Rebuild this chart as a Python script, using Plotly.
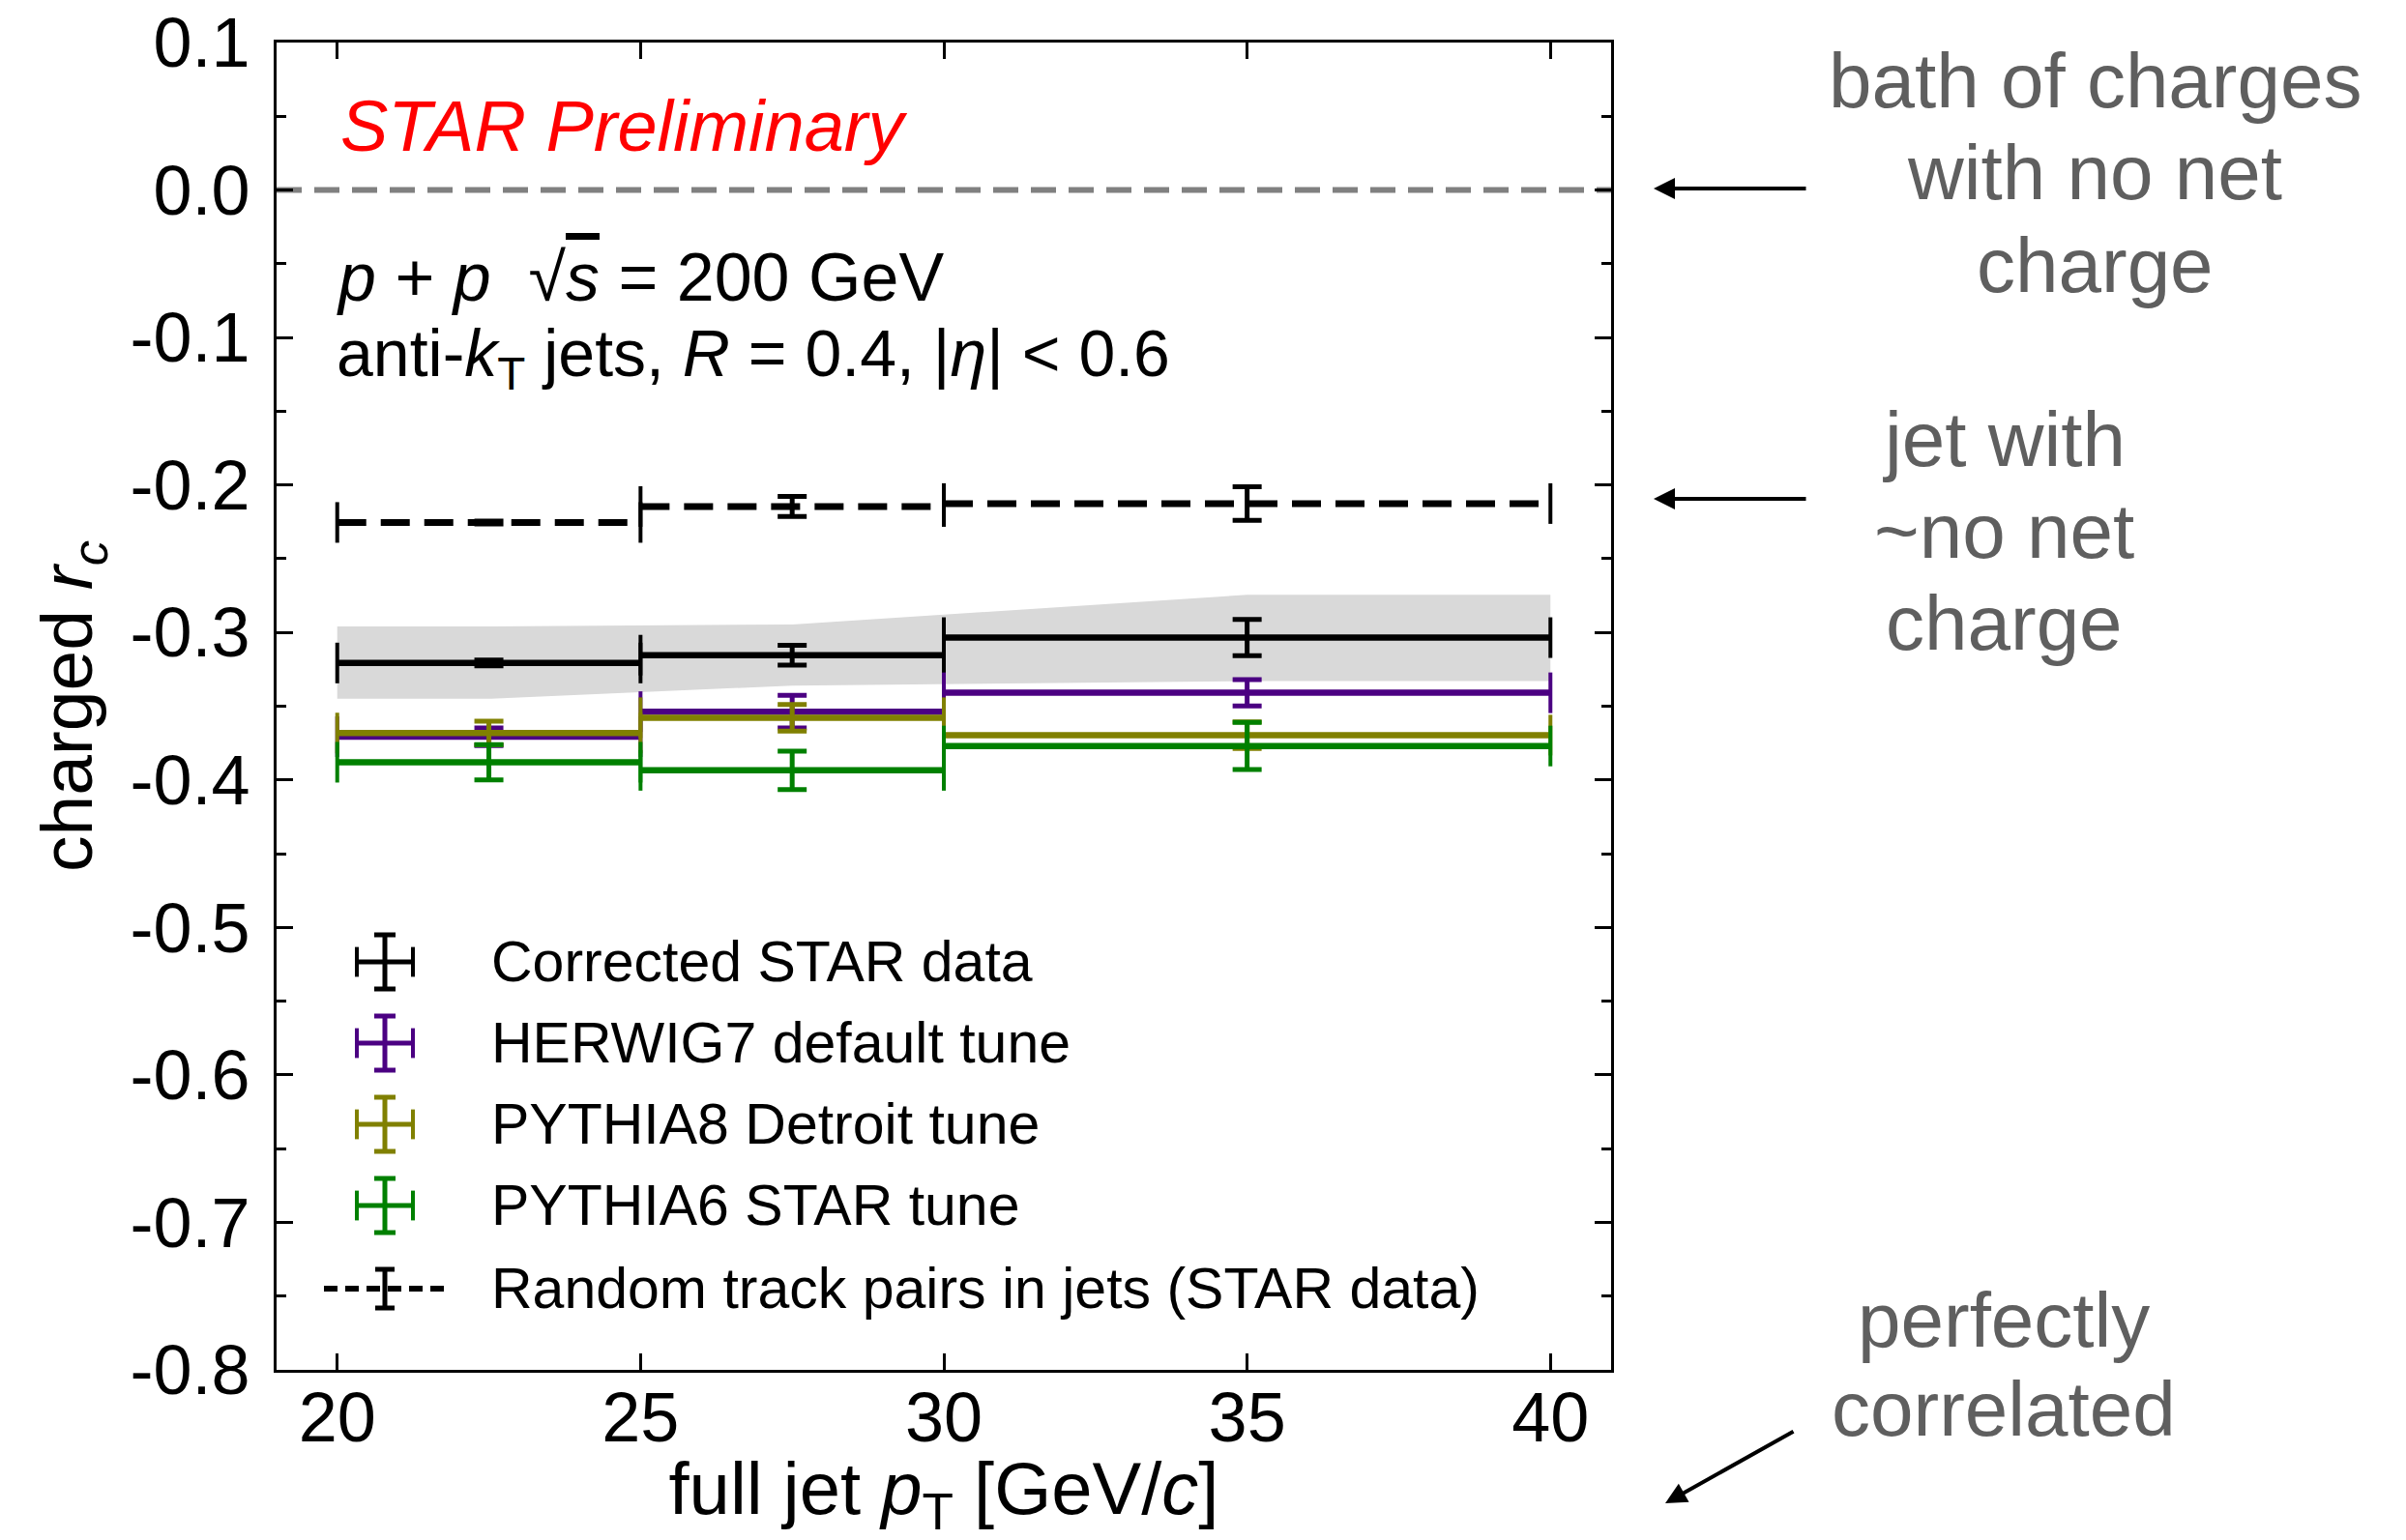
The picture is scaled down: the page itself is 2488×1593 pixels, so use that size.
import plotly.graph_objects as go

# ---- binning in full-jet pT [GeV/c] ----
bin_lo = [20, 25, 30]
bin_hi = [25, 30, 40]
bin_center = [22.5, 27.5, 35]
bin_half = [2.5, 2.5, 5.0]

# ---- charged r_c values ----
star_rc = [-0.3207, -0.3154, -0.3035]
star_stat = [0.002, 0.0067, 0.0123]
sys_x = [20, 22.5, 27.5, 35, 40]
sys_hi = [-0.2960, -0.2960, -0.2946, -0.2745, -0.2745]
sys_lo = [-0.3450, -0.3450, -0.3360, -0.3330, -0.3330]

herwig_rc = [-0.3707, -0.3537, -0.3409]
herwig_err = [0.006, 0.011, 0.009]
pythia8_rc = [-0.3682, -0.3578, -0.3696]
pythia8_err = [0.008, 0.009, 0.009]
pythia6_rc = [-0.3880, -0.3935, -0.3770]
pythia6_err = [0.012, 0.013, 0.016]
random_rc = [-0.2254, -0.2146, -0.2126]
random_err = [0.001, 0.0068, 0.0114]

# ---- axis ticks ----
y_tickvals = [0.1, 0.0, -0.1, -0.2, -0.3, -0.4, -0.5, -0.6, -0.7, -0.8]
y_ticktext = ["0.1", "0.0", "-0.1", "-0.2", "-0.3", "-0.4", "-0.5", "-0.6", "-0.7", "-0.8"]
x_tickvals = [20, 25, 30, 35, 40]
x_ticktext = ["20", "25", "30", "35", "40"]

legend_labels = [
    "Corrected STAR data",
    "HERWIG7 default tune",
    "PYTHIA8 Detroit tune",
    "PYTHIA6 STAR tune",
    "Random track pairs in jets (STAR data)",
]

BLACK = "#000000"
PURPLE = "#4b0082"
OLIVE = "#808000"
GREEN = "#008000"
BAND = "#d9d9d9"
GREY = "#5f5f5f"
FONT = "Liberation Sans, Arial, sans-serif"

# page geometry of the plotting area (px)
W, H = 2488, 1593
L, R, T, B = 286, 1666, 44, 1417


def px(x):
    return (x - L) / (R - L)


def py(y):
    return (B - y) / (B - T)


fig = go.Figure()

# systematic uncertainty band of the corrected data
fig.add_trace(go.Scatter(
    x=sys_x + sys_x[::-1], y=sys_hi + sys_lo[::-1],
    fill="toself", fillcolor=BAND, line=dict(width=0), mode="lines",
    hoverinfo="skip", showlegend=False))


def step_series(vals, errs, color):
    # horizontal bin-width bar plus vertical statistical error
    fig.add_trace(go.Scatter(
        x=bin_center, y=vals, mode="markers",
        marker=dict(size=1, color="rgba(0,0,0,0)"),
        error_x=dict(type="data", array=bin_half, width=0, thickness=6.5, color=color),
        error_y=dict(type="data", array=errs, width=15, thickness=5, color=color),
        showlegend=False))
    # end caps at bin edges
    ex, ey = [], []
    for lo, hi, v in zip(bin_lo, bin_hi, vals):
        ex += [lo, hi]
        ey += [v, v]
    fig.add_trace(go.Scatter(
        x=ex, y=ey, mode="markers",
        marker=dict(symbol="line-ns", size=30, line=dict(width=4, color=color)),
        showlegend=False))


step_series(star_rc, star_stat, BLACK)
step_series(herwig_rc, herwig_err, PURPLE)
step_series(pythia8_rc, pythia8_err, OLIVE)
step_series(pythia6_rc, pythia6_err, GREEN)

# random track pairs: dashed bin bars
lx, ly, ex, ey = [], [], [], []
for lo, hi, v in zip(bin_lo, bin_hi, random_rc):
    lx += [lo, hi, None]
    ly += [v, v, None]
    ex += [lo, hi]
    ey += [v, v]
fig.add_trace(go.Scatter(
    x=lx, y=ly, mode="lines",
    line=dict(color=BLACK, width=7, dash="30px,15px"), showlegend=False))
fig.add_trace(go.Scatter(
    x=ex, y=ey, mode="markers",
    marker=dict(symbol="line-ns", size=30, line=dict(width=4, color=BLACK)),
    showlegend=False))
fig.add_trace(go.Scatter(
    x=bin_center, y=random_rc, mode="markers",
    marker=dict(size=1, color="rgba(0,0,0,0)"),
    error_y=dict(type="data", array=random_err, width=15, thickness=5, color=BLACK),
    showlegend=False))

# ---- hand-made legend on a pixel-scaled overlay axis ----
leg_x = 398
leg_rows = [995, 1079, 1163, 1247, 1333]
leg_colors = [BLACK, PURPLE, OLIVE, GREEN]
for yy, col in zip(leg_rows[:4], leg_colors):
    fig.add_trace(go.Scatter(
        x=[leg_x], y=[yy], xaxis="x2", yaxis="y2", mode="markers",
        marker=dict(size=1, color="rgba(0,0,0,0)"),
        error_x=dict(type="data", array=[29], width=0, thickness=5, color=col),
        error_y=dict(type="data", array=[28], width=11, thickness=5, color=col),
        showlegend=False))
    fig.add_trace(go.Scatter(
        x=[leg_x - 29, leg_x + 29], y=[yy, yy], xaxis="x2", yaxis="y2", mode="markers",
        marker=dict(symbol="line-ns", size=22, line=dict(width=4, color=col)),
        showlegend=False))
ry = leg_rows[4]
fig.add_trace(go.Scatter(
    x=[leg_x - 63, leg_x + 63], y=[ry, ry], xaxis="x2", yaxis="y2", mode="lines",
    line=dict(color=BLACK, width=6, dash="14px,8px"), showlegend=False))
fig.add_trace(go.Scatter(
    x=[leg_x], y=[ry], xaxis="x2", yaxis="y2", mode="markers",
    marker=dict(size=1, color="rgba(0,0,0,0)"),
    error_y=dict(type="data", array=[20], width=10, thickness=5, color=BLACK),
    showlegend=False))

annotations = []
for yy, lab in zip(leg_rows, legend_labels):
    annotations.append(dict(
        x=px(506), y=py(yy), xref="paper", yref="paper", text=lab,
        showarrow=False, xanchor="left", yanchor="middle",
        font=dict(family=FONT, size=59, color=BLACK)))

# in-frame labels
annotations += [
    dict(x=px(350), y=py(130), xref="paper", yref="paper",
         text="<i>STAR Preliminary</i>", showarrow=False,
         xanchor="left", yanchor="middle",
         font=dict(family=FONT, size=74, color="#ff0000")),
    dict(x=px(346), y=py(287), xref="paper", yref="paper",
         text="<i>p</i> + <i>p</i>  √<span style=\"text-decoration:overline\"><i>s</i></span> = 200 GeV",
         showarrow=False, xanchor="left", yanchor="middle",
         font=dict(family=FONT, size=70, color=BLACK)),
    dict(x=px(346), y=py(370), xref="paper", yref="paper",
         text="anti-<i>k</i><sub>T</sub> jets, <i>R</i> = 0.4, |<i>η</i>| &lt; 0.6",
         showarrow=False, xanchor="left", yanchor="middle",
         font=dict(family=FONT, size=68, color=BLACK)),
]

# side notes, one annotation per line
side_notes = [
    (2166, 83, "bath of charges"), (2166, 179, "with no net"), (2166, 274, "charge"),
    (2072, 454, "jet with"), (2072, 549, "~no net"), (2072, 644, "charge"),
    (2072, 1365, "perfectly"), (2072, 1457, "correlated"),
]
for cx, cy, txt in side_notes:
    annotations.append(dict(
        x=px(cx), y=py(cy), xref="paper", yref="paper", text=txt,
        showarrow=False, xanchor="center", yanchor="middle",
        font=dict(family=FONT, size=80, color=GREY)))

for hx, hy, tx, ty in [(1710, 195, 1869, 195), (1710, 516, 1869, 516), (1722, 1555, 1856, 1480)]:
    annotations.append(dict(
        x=px(hx), y=py(hy), xref="paper", yref="paper", text="",
        showarrow=True, ax=tx - hx, ay=ty - hy, axref="pixel", ayref="pixel",
        arrowhead=2, arrowsize=1.1, arrowwidth=4, arrowcolor=BLACK, standoff=0))

axis_common = dict(
    showline=True, linecolor=BLACK, linewidth=3, mirror="ticks",
    ticks="inside", tickcolor=BLACK, tickwidth=3, ticklen=17,
    showgrid=False, zeroline=False, automargin=False,
    tickfont=dict(family=FONT, size=72, color=BLACK),
)

fig.update_layout(
    width=W, height=H,
    margin=dict(l=L, r=W - R, t=T, b=H - B, autoexpand=False),
    paper_bgcolor="white", plot_bgcolor="white",
    showlegend=False,
    xaxis=dict(
        range=[19, 41], tickvals=x_tickvals, ticktext=x_ticktext,
        ticklabelstandoff=-15,
        title=dict(text="full jet <i>p</i><sub>T</sub> [GeV/<i>c</i>]",
                   font=dict(family=FONT, size=76, color=BLACK), standoff=24),
        **axis_common),
    yaxis=dict(
        range=[-0.8, 0.1], tickvals=y_tickvals, ticktext=y_ticktext,
        ticklabelstandoff=10,
        minor=dict(dtick=0.05, tick0=0, ticks="inside", ticklen=10, tickwidth=3, tickcolor=BLACK),
        title=dict(text="charged <i>r</i><sub><i>c</i></sub>",
                   font=dict(family=FONT, size=75, color=BLACK), standoff=15),
        **axis_common),
    xaxis2=dict(overlaying="x", range=[L, R], visible=False),
    yaxis2=dict(overlaying="y", range=[B, T], visible=False),
    shapes=[dict(type="line", xref="paper", x0=0, x1=1, yref="y", y0=0, y1=0,
                 line=dict(color="#808080", width=6, dash="26px,13px"), layer="below")],
    annotations=annotations,
)

fig.write_html("out.html")
